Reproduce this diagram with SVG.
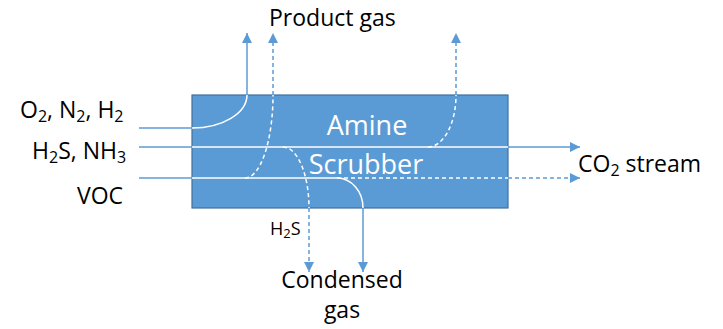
<svg xmlns="http://www.w3.org/2000/svg" width="723" height="329" viewBox="0 0 723 329">
<style>
.lbl{font-family:"Open Sans","Liberation Sans",sans-serif;font-size:23px;fill:#000}
.sub{font-size:16px}
.box{fill:#5B9BD5;stroke:#41719C;stroke-width:1.2}
.boxt{font-family:"Open Sans","Liberation Sans",sans-serif;font-size:27px;fill:#fff;text-anchor:middle}
.bl{fill:none;stroke:#5B9BD5;stroke-width:1.5}
.wh{fill:none;stroke:#fff;stroke-width:1.5}
.dash{stroke-dasharray:4 3}
.arr{marker-end:url(#ah)}
</style>
<defs>
<marker id="ah" markerUnits="userSpaceOnUse" markerWidth="12" markerHeight="12" refX="10" refY="5" orient="auto">
<path d="M0,0 L10,5 L0,10 Z" fill="#5B9BD5"/>
</marker>
</defs>
<rect width="723" height="329" fill="#fff"/>
<g id="scrubber">
<rect class="box" x="192" y="95" width="316" height="113"/>
<text class="boxt" x="367" y="135">Amine</text>
<text class="boxt" x="366" y="174">Scrubber</text>
</g>
<g id="connectors">
<!-- O2 N2 H2 -->
<path class="bl" d="M139,128 H192"/>
<path class="wh" d="M192,128 A55,33 0 0 0 247,95"/>
<path class="bl arr" d="M247,95 V33"/>
<!-- H2S NH3 -->
<path class="bl" d="M139,147 H192"/>
<path class="wh" d="M192,147 H508"/>
<path class="bl arr" d="M508,147 H580"/>
<!-- VOC -->
<path class="bl" d="M139,178 H192"/>
<path class="wh" d="M192,178 H337 A26,30 0 0 1 363,208"/>
<path class="bl arr" d="M363,208 V272"/>
<path class="wh dash" d="M337,178 H508"/>
<path class="bl dash arr" d="M508,178 H580"/>
<!-- VOC up to product gas -->
<path class="wh dash" d="M245,178 A28,83 0 0 0 273,95"/>
<path class="bl dash arr" d="M273,95 V33"/>
<!-- H2S down -->
<path class="wh dash" d="M283,147 A26,61 0 0 1 309,208"/>
<path class="bl dash arr" d="M309,208 V272"/>
<!-- right up -->
<path class="wh dash" d="M428,147 A28,52 0 0 0 456,95"/>
<path class="bl dash arr" d="M456,95 V33"/>
</g>
<g id="product-gas"><text class="lbl" x="269" y="26">Product gas</text></g>
<g id="in-o2"><text class="lbl" x="20" y="118">O<tspan class="sub" dy="4">2</tspan><tspan dy="-4">, N</tspan><tspan class="sub" dy="4">2</tspan><tspan dy="-4">, H</tspan><tspan class="sub" dy="4">2</tspan></text></g>
<g id="in-h2s"><text class="lbl" x="32" y="159">H<tspan class="sub" dy="4">2</tspan><tspan dy="-4">S, NH</tspan><tspan class="sub" dy="4">3</tspan></text></g>
<g id="in-voc"><text class="lbl" x="77" y="204">VOC</text></g>
<g id="co2"><text class="lbl" x="578" y="172">CO<tspan class="sub" dy="4">2</tspan><tspan dy="-4"> stream</tspan></text></g>
<g id="h2s-out"><text class="lbl" x="270" y="235" style="font-size:18px">H<tspan style="font-size:13px" dy="3">2</tspan><tspan dy="-3">S</tspan></text></g>
<g id="condensed"><text class="lbl" x="342" y="288" text-anchor="middle">Condensed</text><text class="lbl" x="342" y="318" text-anchor="middle">gas</text></g>
</svg>
